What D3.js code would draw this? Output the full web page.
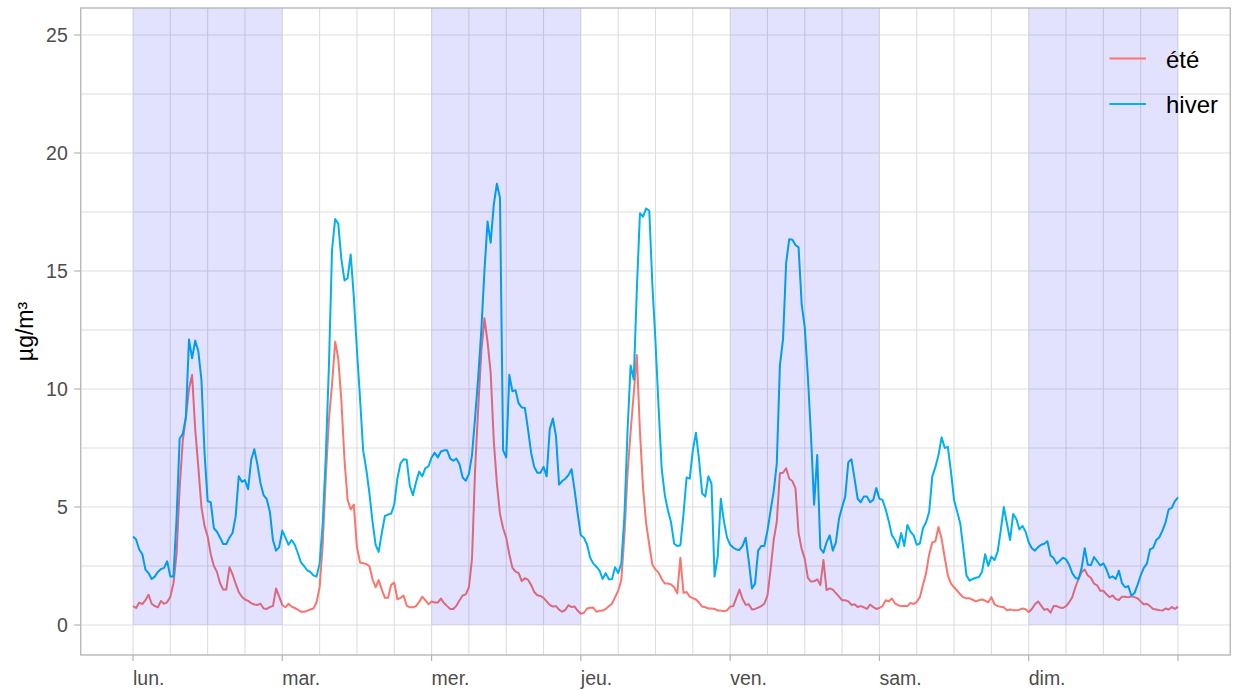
<!DOCTYPE html>
<html><head><meta charset="utf-8">
<script src="https://cdn.jsdelivr.net/npm/d3@7"></script>
<style>body{margin:0;background:#fff;} text{font-family:"Liberation Sans",Arial,sans-serif;}</style>
</head><body><svg id="c" width="1235" height="690"></svg>
<script>
const dayLabels = ["lun.","mar.","mer.","jeu.","ven.","sam.","dim."];
const shadedDays = [0,2,4,6];
const yTicks = [0,5,10,15,20,25];
const stepHours = 0.5;
const seriesNames = ["été","hiver"];
const seriesColors = ["#F8766D","#00B0F0"];

const ete = [
0.8,0.72,0.95,0.88,1.05,1.28,0.9,0.8,0.75,1.02,0.9,0.97,1.2,1.77,3.0,5.8,7.8,8.8,10.0,10.6,8.3,6.7,5.0,4.2,3.75,3.0,2.5,2.25,1.77,1.5,1.5,2.45,2.15,1.75,1.4,1.2,1.08,1.02,0.93,0.87,0.85,0.9,0.7,0.68,0.76,0.8,1.55,1.2,
0.85,0.75,0.9,0.78,0.72,0.65,0.56,0.56,0.6,0.66,0.7,0.95,1.6,3.4,6.3,8.7,10.2,12.0,11.3,9.5,7.0,5.3,4.9,5.1,3.3,2.65,2.62,2.58,2.5,1.95,1.6,1.9,1.5,1.15,1.15,1.7,1.8,1.09,1.15,1.25,0.82,0.75,0.75,0.8,0.98,1.2,1.05,0.88,
1.0,0.95,0.95,1.12,0.93,0.8,0.68,0.68,0.82,1.05,1.25,1.3,1.6,2.8,6.6,9.2,11.6,13.0,12.0,10.7,7.8,6.0,4.7,4.1,3.7,3.0,2.42,2.26,2.2,1.86,1.98,1.92,1.7,1.4,1.26,1.23,1.15,1.0,0.85,0.78,0.8,0.65,0.56,0.64,0.84,0.76,0.78,0.6,
0.48,0.52,0.7,0.73,0.74,0.56,0.6,0.61,0.68,0.8,0.9,1.17,1.46,1.9,3.8,6.4,8.2,9.8,11.44,8.2,5.8,4.3,3.4,2.55,2.35,2.22,1.95,1.76,1.76,1.72,1.6,1.34,2.85,1.36,1.4,1.2,1.14,1.08,0.95,0.78,0.75,0.7,0.7,0.68,0.61,0.61,0.58,0.62,
0.78,0.8,1.15,1.5,1.1,0.86,0.88,0.66,0.68,0.74,0.8,0.9,1.25,2.35,3.6,4.38,6.43,6.45,6.64,6.2,6.1,5.8,3.9,3.22,2.8,2.0,1.84,1.85,1.94,1.69,2.75,1.48,1.55,1.5,1.35,1.2,1.05,1.05,1.0,0.85,0.88,0.76,0.8,0.75,0.68,0.87,0.76,0.68,
0.72,0.8,1.05,1.0,1.12,0.92,0.84,0.8,0.82,0.8,0.94,0.89,0.98,1.18,1.7,2.2,3.0,3.5,3.55,4.15,3.65,2.85,2.1,1.75,1.6,1.45,1.3,1.17,1.13,1.13,1.07,1.0,1.05,1.08,1.03,0.96,1.18,0.88,0.8,0.77,0.75,0.62,0.66,0.63,0.62,0.65,0.7,0.67,
0.55,0.68,0.88,1.0,0.82,0.64,0.68,0.52,0.8,0.8,0.74,0.72,0.8,0.96,1.18,1.6,1.95,2.24,2.35,2.1,2.0,1.75,1.68,1.45,1.45,1.3,1.18,1.25,1.1,1.06,1.2,1.2,1.17,1.22,1.18,1.13,1.0,0.87,0.9,0.8,0.68,0.66,0.63,0.61,0.7,0.66,0.76,0.68,0.78
];

const hiver = [
3.75,3.62,3.2,3.0,2.35,2.2,1.95,2.05,2.25,2.37,2.42,2.7,2.05,2.05,4.5,7.9,8.1,8.8,12.1,11.3,12.05,11.6,10.4,7.3,5.25,5.2,4.1,3.95,3.7,3.43,3.43,3.7,3.9,4.6,6.3,6.07,6.14,5.75,7.0,7.45,6.8,6.0,5.5,5.33,4.8,3.6,3.15,3.3,
4.0,3.7,3.4,3.6,3.4,3.05,2.65,2.5,2.32,2.25,2.1,2.05,2.6,4.3,7.2,11.0,15.9,17.2,17.0,15.5,14.6,14.7,15.7,13.9,11.65,9.6,7.4,6.6,5.6,4.4,3.4,3.1,3.9,4.62,4.68,4.72,5.1,6.2,6.85,7.02,7.0,5.9,5.5,6.05,6.5,6.3,6.65,6.72,
7.1,7.3,7.1,7.35,7.4,7.4,7.05,6.96,7.05,6.8,6.25,6.11,6.4,7.2,8.8,10.5,12.5,15.0,17.1,16.2,17.8,18.7,18.1,7.4,7.1,10.6,9.9,9.95,9.39,9.22,9.2,8.3,7.3,6.7,6.45,6.45,6.7,6.3,8.3,8.75,8.0,5.95,6.1,6.2,6.35,6.6,5.7,4.7,
3.8,3.7,3.4,2.85,2.6,2.47,2.3,1.95,2.2,1.94,1.94,2.45,2.2,2.6,4.6,8.2,11.0,10.4,14.2,17.45,17.3,17.65,17.55,14.4,12.0,9.2,6.6,5.5,4.85,4.35,3.45,3.35,3.38,4.7,6.25,6.2,7.4,8.15,7.0,5.58,5.44,6.3,6.0,2.05,2.9,5.35,4.4,3.7,
3.4,3.28,3.2,3.18,3.35,3.7,2.7,1.55,1.75,3.15,3.35,3.35,4.0,4.85,5.65,6.85,11.0,12.1,15.33,16.35,16.32,16.1,16.0,13.6,12.6,10.5,8.0,5.1,7.2,3.25,3.06,3.5,3.8,3.15,3.5,4.5,5.0,5.44,6.9,7.02,6.2,5.35,5.2,5.45,5.44,5.2,5.3,5.8,
5.35,5.3,4.9,4.4,3.8,3.6,3.28,3.9,3.35,4.24,3.95,3.8,3.4,3.45,4.1,4.35,4.8,6.3,6.7,7.2,7.95,7.5,7.55,6.5,5.3,4.8,4.3,3.2,2.1,1.88,1.95,2.0,2.03,2.26,3.0,2.5,2.9,2.75,3.1,4.0,5.0,4.3,3.6,4.7,4.5,4.05,4.2,3.95,
3.5,3.25,3.15,3.3,3.4,3.44,3.55,2.95,2.84,2.6,2.72,2.85,2.78,2.55,2.2,2.0,1.95,2.4,3.25,2.55,2.54,2.88,2.7,2.52,2.61,2.36,2.0,2.06,1.95,2.3,1.77,1.6,1.65,1.25,1.35,1.7,2.1,2.42,2.6,3.2,3.27,3.6,3.72,4.0,4.35,4.9,4.96,5.25,5.41
];

const svg = d3.select("#c");
const nHours = dayLabels.length * 24;
// anchors: hour 0 -> 133px, hour 168 -> 1178px ; value 0 -> 625px, 25 -> 35px
const x = d3.scaleLinear().domain([0, nHours]).range([133, 1178]);
const y = d3.scaleLinear().domain([0, 25]).range([625, 35]);
const pad = nHours * 0.05;
const X0 = x(-pad), X1 = x(nHours + pad);
const Y0 = 655, Y1 = 8;

const gridH = d3.range(0, nHours + 0.1, 6);
const gridV = d3.range(0, 25.1, 2.5);

const g = svg.append("g");
g.selectAll("line.gv").data(gridH).join("line")
  .attr("x1", d => x(d)).attr("x2", d => x(d)).attr("y1", Y1).attr("y2", Y0)
  .attr("stroke", "#DEDEDE").attr("stroke-width", 1.1);
g.selectAll("line.gh").data(gridV).join("line")
  .attr("x1", X0).attr("x2", X1).attr("y1", d => y(d)).attr("y2", d => y(d))
  .attr("stroke", "#DEDEDE").attr("stroke-width", 1.1);

const line = d3.line().x((d, i) => x(i * stepHours)).y(d => y(d));
[ete, hiver].forEach((s, k) => {
  svg.append("path").datum(s).attr("d", line).attr("fill", "none")
    .attr("stroke", seriesColors[k]).attr("stroke-width", 2).attr("stroke-linejoin", "round");
});

svg.selectAll("rect.sh").data(shadedDays).join("rect")
  .attr("x", d => x(d * 24)).attr("width", d => x(d * 24 + 24) - x(d * 24))
  .attr("y", Y1).attr("height", y(0) - Y1)
  .attr("fill", "blue").attr("fill-opacity", 0.115);

svg.append("rect").attr("x", X0).attr("y", Y1).attr("width", X1 - X0).attr("height", Y0 - Y1)
  .attr("fill", "none").attr("stroke", "#B3B3B3").attr("stroke-width", 1.3);

// y axis
const ya = svg.append("g");
ya.selectAll("line").data(yTicks).join("line")
  .attr("x1", X0 - 6.5).attr("x2", X0).attr("y1", d => y(d)).attr("y2", d => y(d))
  .attr("stroke", "#B3B3B3").attr("stroke-width", 1.2);
ya.selectAll("text").data(yTicks).join("text")
  .attr("x", X0 - 13).attr("y", d => y(d) + 7).attr("text-anchor", "end")
  .attr("font-size", 19.5).attr("fill", "#4D4D4D").text(d => d);

// x axis
const xa = svg.append("g");
xa.selectAll("line").data(d3.range(0, dayLabels.length + 1)).join("line")
  .attr("x1", d => x(d * 24)).attr("x2", d => x(d * 24)).attr("y1", Y0).attr("y2", Y0 + 6)
  .attr("stroke", "#B3B3B3").attr("stroke-width", 1.2);
xa.selectAll("text").data(dayLabels).join("text")
  .attr("x", (d, i) => x(i * 24)).attr("y", 684.5).attr("text-anchor", "start")
  .attr("font-size", 19.5).attr("fill", "#4D4D4D").text(d => d);

svg.append("text").attr("transform", `translate(33,${(Y0 + Y1) / 2}) rotate(-90)`)
  .attr("text-anchor", "middle").attr("font-size", 23).attr("fill", "#000").text("µg/m³");

// legend
const lg = svg.append("g");
seriesNames.forEach((n, k) => {
  const yy = 58.5 + k * 45.5;
  lg.append("line").attr("x1", 1109.5).attr("x2", 1146).attr("y1", yy).attr("y2", yy)
    .attr("stroke", seriesColors[k]).attr("stroke-width", 2.2);
  lg.append("text").attr("x", 1166).attr("y", yy + 9).attr("font-size", 24).attr("fill", "#000").text(n);
});
</script></body></html>
